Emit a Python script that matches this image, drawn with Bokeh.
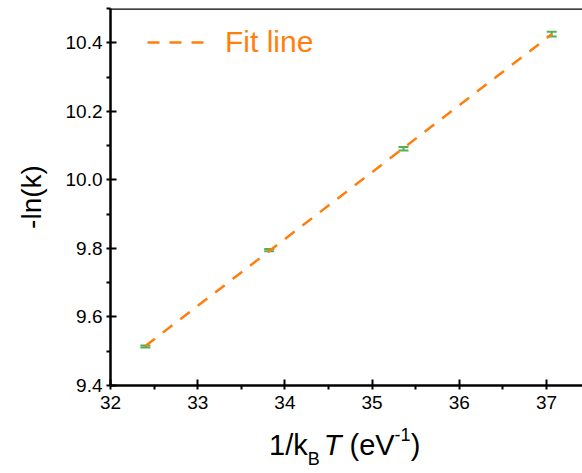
import numpy as np
from bokeh.plotting import figure
from bokeh.layouts import column
from bokeh.models import (ColumnDataSource, Whisker, TeeHead, Legend, LegendItem,
                          Range1d, SingleIntervalTicker, Span, Div,
                          NumeralTickFormatter)
from bokeh.embed import file_html
from bokeh.resources import INLINE

# ---- data ----
inv_kT = [32.40, 33.82, 35.36, 37.06]          # 1/kBT (eV^-1)
neg_ln_k = [9.514, 9.795, 10.091, 10.425]      # -ln(k)
err = [0.003, 0.003, 0.005, 0.007]             # error bars
legend_label = "Fit line"
y_label = "-ln(k)"

FONT = "Liberation Sans"
ORANGE = "#FF7F0E"
GREEN = "#55B04F"

W, H = 582, 420
p = figure(width=W, height=H, output_backend="svg", toolbar_location=None,
           x_range=Range1d(32, 37.413), y_range=Range1d(9.4, 10.5),
           min_border_left=110, min_border_right=0, min_border_top=8,
           min_border_bottom=35)
p.background_fill_color = "white"
p.border_fill_color = "white"
p.outline_line_color = None
p.grid.visible = False

# fit line
slope, icpt = np.polyfit(inv_kT, neg_ln_k, 1)
fx = [min(inv_kT), max(inv_kT)]
fy = [slope * v + icpt for v in fx]
fit = p.line(fx, fy, line_color=ORANGE, line_width=2.5, line_dash="12 10")

# error bars
src = ColumnDataSource(dict(x=inv_kT, y=neg_ln_k,
                            lo=[a - b for a, b in zip(neg_ln_k, err)],
                            hi=[a + b for a, b in zip(neg_ln_k, err)]))
wh = Whisker(source=src, base="x", lower="lo", upper="hi",
             line_color=GREEN, line_width=2,
             upper_head=TeeHead(size=10, line_color=GREEN, line_width=2),
             lower_head=TeeHead(size=10, line_color=GREEN, line_width=2))
p.add_layout(wh)

# top frame line
p.add_layout(Span(location=10.5, dimension="width", line_color="black", line_width=2.5))

# axes
for ax in (p.xaxis[0], p.yaxis[0]):
    ax.axis_line_width = 2.5
    ax.axis_line_color = "black"
    ax.major_tick_in = 6
    ax.major_tick_out = 0
    ax.minor_tick_in = 0
    ax.minor_tick_out = 4
    ax.major_tick_line_width = 2
    ax.minor_tick_line_width = 2
    ax.major_tick_line_color = "black"
    ax.minor_tick_line_color = "black"
    ax.major_label_text_font = FONT
    ax.major_label_text_font_size = "19px"
    ax.major_label_text_color = "black"
    ax.axis_label_text_font = FONT
    ax.axis_label_text_font_style = "normal"
    ax.axis_label_text_font_size = "28px"
    ax.axis_label_text_color = "black"

p.xaxis[0].ticker = SingleIntervalTicker(interval=1, num_minor_ticks=2)
p.yaxis[0].ticker = SingleIntervalTicker(interval=0.2, num_minor_ticks=2)
p.xaxis[0].formatter = NumeralTickFormatter(format="0")
p.yaxis[0].formatter = NumeralTickFormatter(format="0.0")
p.xaxis[0].major_label_standoff = 6
p.yaxis[0].major_label_standoff = 4
p.yaxis[0].axis_label = y_label
p.yaxis[0].axis_label_standoff = 16

# legend
leg = Legend(items=[LegendItem(label=legend_label, renderers=[fit])],
             location=(37, 326), orientation="vertical",
             glyph_width=62, glyph_height=30, label_standoff=16,
             label_text_font=FONT, label_text_font_size="30px",
             label_text_color=ORANGE, padding=0, margin=0, spacing=0,
             border_line_color=None, background_fill_alpha=0)
p.add_layout(leg)

# x axis label (with subscript / superscript)
xlab_html = (
    '<span style="font-family:\'Liberation Sans\';font-size:29px;color:black;'
    'white-space:nowrap;line-height:28px;">'
    '1/k<span style="font-size:18px;position:relative;top:10px;">B</span>'
    '<span style="font-style:italic;margin-left:4px;">T</span> (eV'
    '<span style="font-size:18px;position:relative;top:-14px;">-1</span>)</span>'
)
div = Div(text=xlab_html, width=W, height=53, margin=0,
          styles={"padding-left": "269px", "padding-top": "11px",
                  "box-sizing": "border-box"})

layout = column(p, div, spacing=0)
open("out.html", "w").write(file_html(layout, INLINE))
